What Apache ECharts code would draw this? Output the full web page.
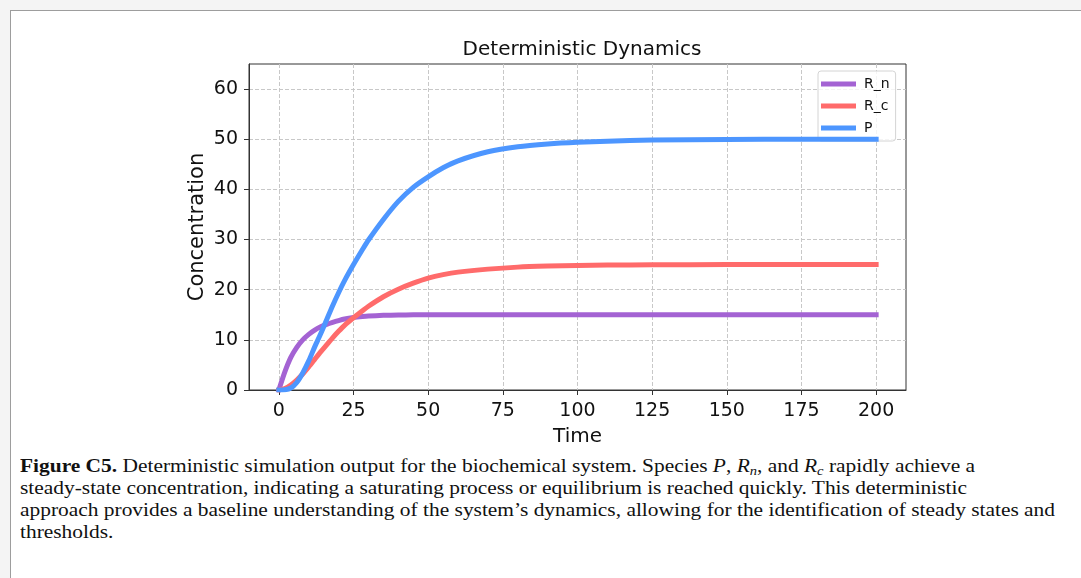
<!DOCTYPE html>
<html>
<head>
<meta charset="utf-8">
<script src="https://cdn.jsdelivr.net/npm/echarts@6/dist/echarts.min.js"></script>
<style>
  html, body { margin: 0; padding: 0; width: 1081px; height: 578px; overflow: hidden; background: #f4f4f4; }
  #panel { position: absolute; left: 10px; top: 10px; width: 1100px; height: 600px; background: #fff;
           border-left: 1px solid #9d9d9d; border-top: 1px solid #9d9d9d; }
  #chart { position: absolute; left: 0; top: 0; width: 1081px; height: 452px; }
  #caption { position: absolute; left: 20px; top: 455px; font-family: "Liberation Serif", "Times New Roman", serif;
             font-size: 18px; color: #111; transform-origin: 0 0; }
  #caption .ln { white-space: nowrap; line-height: 22px; height: 22px; display: block; }
  #caption .ln span.w { display: inline-block; }
  #caption sub { font-size: 0.68em; vertical-align: -0.22em; line-height: 0; }
</style>
</head>
<body>
<div id="panel"></div>
<div id="chart"></div>
<div id="caption">
  <div class="ln"><span class="w"><b>Figure C5.</b> Deterministic simulation output for the biochemical system. Species <i>P</i>, <i>R<sub>n</sub></i>, and <i>R<sub>c</sub></i> rapidly achieve a</span></div>
  <div class="ln"><span class="w">steady-state concentration, indicating a saturating process or equilibrium is reached quickly. This deterministic</span></div>
  <div class="ln"><span class="w" id="longest">approach provides a baseline understanding of the system’s dynamics, allowing for the identification of steady states and</span></div>
  <div class="ln"><span class="w">thresholds.</span></div>
</div>
<script>
// Simulation time points and concentrations of each species
const times = [0, 2, 4, 6, 8, 10, 12, 14, 16, 18, 20, 22, 25, 28, 30, 35, 40, 45, 50, 55, 60, 70, 80, 90, 100, 110, 125, 150, 175, 200];
const rN = [0, 3.6, 6.5, 8.5, 10.0, 11.1, 11.95, 12.6, 13.1, 13.5, 13.85, 14.15, 14.45, 14.65, 14.75, 14.88, 14.95, 14.98, 15, 15, 15, 15, 15, 15, 15, 15, 15, 15, 15, 15];
const rC = [0, 0.3, 1.0, 2.0, 3.2, 4.6, 6.1, 7.6, 9.0, 10.4, 11.7, 12.9, 14.4, 15.8, 16.7, 18.6, 20.1, 21.3, 22.3, 23.0, 23.5, 24.1, 24.5, 24.7, 24.82, 24.9, 24.96, 25, 25, 25];
const pP = [0, 0.05, 0.4, 1.5, 3.4, 5.8, 8.6, 11.2, 14.0, 16.8, 19.4, 21.8, 25.0, 28.0, 29.9, 34.0, 37.6, 40.4, 42.5, 44.3, 45.7, 47.5, 48.5, 49.05, 49.4, 49.62, 49.83, 49.96, 49.99, 50];

const seriesNames = ['R_n', 'R_c', 'P'];
const seriesColors = ['#a463d3', '#ff6b6b', '#4d96ff'];
const xTicks = [0, 25, 50, 75, 100, 125, 150, 175, 200];
const yTicks = [0, 10, 20, 30, 40, 50, 60];

const pairs = vals => times.map((t, i) => [t, vals[i]]);
const FONT = 'DejaVu Sans';
const gridLine = { show: true, lineStyle: { color: '#c8c8c8', type: [4, 2], width: 1 } };

const chart = echarts.init(document.getElementById('chart'), null, { renderer: 'canvas' });
chart.setOption({
  animation: false,
  backgroundColor: 'transparent',
  title: {
    text: 'Deterministic Dynamics',
    left: 577, top: 35, textAlign: 'center',
    textStyle: { fontFamily: FONT, fontSize: 20, fontWeight: 'normal', color: '#111' }
  },
  legend: {
    data: seriesNames,
    orient: 'vertical',
    left: 818, top: 71,
    padding: [6, 6, 6, 3],
    itemGap: 8,
    itemWidth: 35, itemHeight: 5,
    icon: 'rect',
    selectedMode: false,
    backgroundColor: 'rgba(255,255,255,0.8)',
    borderColor: '#d4d4d4', borderWidth: 1, borderRadius: 3,
    textStyle: { fontFamily: FONT, fontSize: 14, color: '#111', padding: [0, 0, 0, 3] }
  },
  grid: {
    left: 249, top: 64, width: 657, height: 326,
    show: true, borderColor: '#333', borderWidth: 1, backgroundColor: 'transparent'
  },
  xAxis: {
    type: 'value', min: -10, max: 210,
    name: 'Time', nameLocation: 'middle', nameGap: 37, nameMoveOverlap: false,
    nameTextStyle: { fontFamily: FONT, fontSize: 20, color: '#111' },
    axisLine: { show: true, onZero: false, lineStyle: { color: '#333' } },
    axisTick: { show: true, customValues: xTicks, length: 5, lineStyle: { color: '#333' } },
    axisLabel: { customValues: xTicks, fontFamily: FONT, fontSize: 19, color: '#111', margin: 12 },
    splitLine: gridLine
  },
  yAxis: {
    type: 'value', min: 0, max: 65,
    name: 'Concentration', nameLocation: 'middle', nameGap: 41, nameMoveOverlap: false,
    nameTextStyle: { fontFamily: FONT, fontSize: 21, color: '#111' },
    axisLine: { show: true, onZero: false, lineStyle: { color: '#333' } },
    axisTick: { show: true, customValues: yTicks, length: 5, lineStyle: { color: '#333' } },
    axisLabel: { customValues: yTicks, fontFamily: FONT, fontSize: 19, color: '#111', margin: 11 },
    splitLine: gridLine
  },
  series: [rN, rC, pP].map((vals, i) => ({
    name: seriesNames[i],
    type: 'line',
    data: pairs(vals),
    smooth: 0.25,
    showSymbol: false,
    symbol: 'none',
    color: seriesColors[i],
    lineStyle: { width: 5, color: seriesColors[i], cap: 'square', join: 'round' },
    z: 2 + i
  }))
});

// Stretch the caption so the widest line spans the text block
const cap = document.getElementById('caption');
const longest = document.getElementById('longest');
const w = longest.getBoundingClientRect().width;
cap.style.transform = 'scaleX(' + (1035 / w).toFixed(4) + ')';
</script>
</body>
</html>
